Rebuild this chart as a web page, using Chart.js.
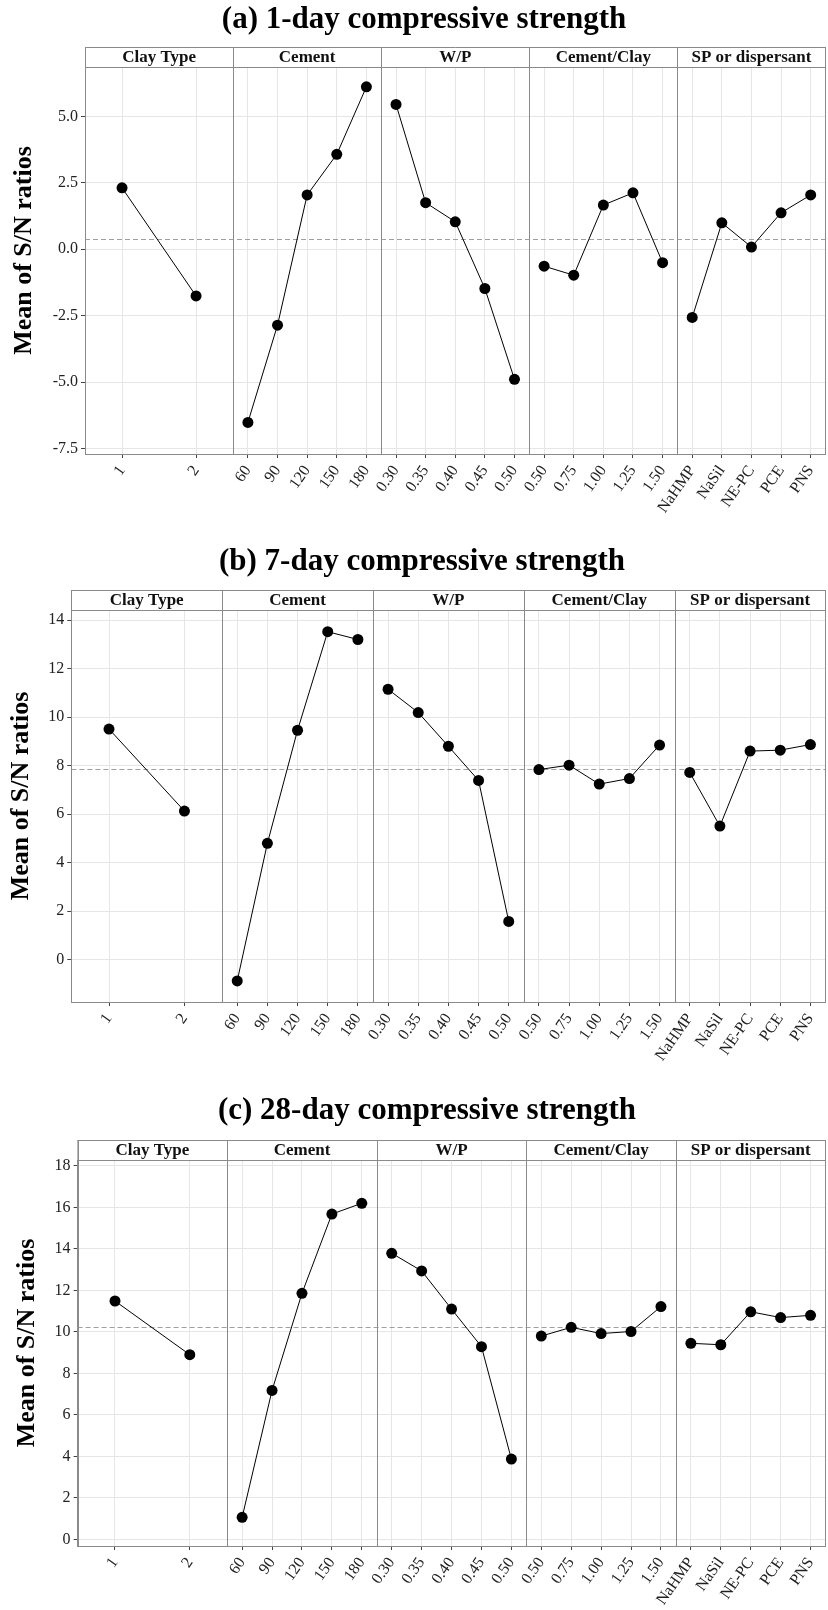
<!DOCTYPE html>
<html><head><meta charset="utf-8">
<script src="https://cdn.jsdelivr.net/npm/chart.js@4/dist/chart.umd.min.js"></script>
<style>
html,body{margin:0;padding:0;background:#fff;overflow:hidden;width:828px;height:1610px;position:relative;}
canvas{position:absolute;left:0;display:block;}
</style></head><body>
<canvas id="cA" width="831" height="540" style="top:0px"></canvas>
<canvas id="cB" width="831" height="542" style="top:540px"></canvas>
<canvas id="cC" width="831" height="528" style="top:1082px"></canvas>
<script>
// ---------- data ----------
const factorNames = ["Clay Type", "Cement", "W/P", "Cement/Clay", "SP or dispersant"];
const clayLevels = ["1", "2"];
const cementLevels = ["60", "90", "120", "150", "180"];
const wpLevels = ["0.30", "0.35", "0.40", "0.45", "0.50"];
const ratioLevels = ["0.50", "0.75", "1.00", "1.25", "1.50"];
const spLevels = ["NaHMP", "NaSil", "NE-PC", "PCE", "PNS"];
const panelTitles = ["(a) 1-day compressive strength", "(b) 7-day compressive strength", "(c) 28-day compressive strength"];
const yAxisTitle = "Mean of S/N ratios";

const day1Clay = [2.31, -1.76];
const day1Cement = [-6.52, -2.86, 2.04, 3.57, 6.11];
const day1WP = [5.45, 1.75, 1.03, -1.48, -4.90];
const day1Ratio = [-0.64, -0.98, 1.66, 2.12, -0.51];
const day1SP = [-2.57, 0.99, 0.08, 1.37, 2.04];
const day1Mean = 0.37;

const day7Clay = [9.51, 6.13];
const day7Cement = [-0.87, 4.80, 9.46, 13.52, 13.20];
const day7WP = [11.15, 10.19, 8.80, 7.39, 1.58];
const day7Ratio = [7.84, 8.02, 7.24, 7.47, 8.85];
const day7SP = [7.72, 5.51, 8.60, 8.64, 8.87];
const day7Mean = 7.88;

const day28Clay = [11.49, 8.90];
const day28Cement = [1.06, 7.18, 11.86, 15.68, 16.20];
const day28WP = [13.79, 12.94, 11.10, 9.29, 3.87];
const day28Ratio = [9.80, 10.22, 9.92, 10.02, 11.22];
const day28SP = [9.45, 9.38, 10.97, 10.69, 10.80];
const day28Mean = 10.25;

// ---------- style ----------
const FONT = "'Liberation Serif', 'Times New Roman', serif";
const GRID = "#e6e6e6";
const BORDER = "#8a8a8a";
const TICKC = "#444";
Chart.defaults.font.family = FONT;

const facetPlugin = {
  id: "facets",
  beforeDatasetsDraw(chart, args, opts) {
    const { ctx, chartArea } = chart;
    const y = Math.round(chart.scales.y.getPixelForValue(opts.mean)) + 0.5;
    ctx.save();
    ctx.strokeStyle = "#a0a0a0";
    ctx.lineWidth = 1;
    ctx.setLineDash([5, 3]);
    ctx.beginPath();
    ctx.moveTo(chartArea.left, y);
    ctx.lineTo(chartArea.right, y);
    ctx.stroke();
    ctx.restore();
  },
  afterDraw(chart, args, opts) {
    const { ctx, chartArea } = chart;
    const top = chartArea.top;
    const sh = opts.stripHeight;
    ctx.save();
    ctx.fillStyle = "#fff";
    ctx.fillRect(chartArea.left, top, chartArea.right - chartArea.left, sh);
    ctx.strokeStyle = BORDER;
    ctx.lineWidth = 1;
    ctx.beginPath();
    ctx.moveTo(chartArea.left, top + 0.5); ctx.lineTo(chartArea.right, top + 0.5);
    ctx.moveTo(chartArea.left, top + sh + 0.5); ctx.lineTo(chartArea.right, top + sh + 0.5);
    ctx.stroke();
    ctx.font = "bold 17px " + FONT;
    ctx.fillStyle = "#111";
    ctx.textAlign = "center";
    ctx.textBaseline = "middle";
    opts.axes.forEach((id, i) => {
      const s = chart.scales[id];
      const x = Math.round(s.left) + 0.5;
      ctx.beginPath();
      ctx.moveTo(x, top); ctx.lineTo(x, chartArea.bottom);
      ctx.stroke();
      if (i === opts.axes.length - 1) {
        const xr = Math.round(s.right) - 0.5;
        ctx.beginPath(); ctx.moveTo(xr, top); ctx.lineTo(xr, chartArea.bottom); ctx.stroke();
      }
      ctx.fillText(opts.names[i], (s.left + s.right) / 2, top + sh / 2 + 1);
    });
    ctx.restore();
  }
};

function makeChart(canvasId, cfg) {
  const levelSets = [clayLevels, cementLevels, wpLevels, ratioLevels, spLevels];
  const axisIds = levelSets.map((_, i) => "x" + i);
  const scales = {};
  levelSets.forEach((labels, i) => {
    scales["x" + i] = {
      type: "category",
      labels: labels,
      position: "bottom",
      stack: "facets",
      stackWeight: 1,
      offset: true,
      grid: { offset: false, color: GRID, lineWidth: 1, tickLength: 4, tickColor: TICKC, drawTicks: true },
      border: { color: BORDER, width: 1 },
      ticks: { autoSkip: false, minRotation: 55, maxRotation: 55, padding: 4, color: "#222",
               font: { family: FONT, size: 16 } },
      afterFit: (s) => { s.height = cfg.xAxisHeight; s.paddingLeft = 0; s.paddingRight = 0; }
    };
  });
  scales.y = {
    type: "linear",
    position: "left",
    min: cfg.yMin,
    max: cfg.yMax,
    grid: { color: GRID, lineWidth: 1, tickLength: 4, tickColor: TICKC },
    border: { color: BORDER, width: 1 },
    ticks: { stepSize: cfg.step, includeBounds: false, padding: 3, color: "#222",
             font: { family: FONT, size: 16 },
             callback: (v) => v.toFixed(cfg.decimals) },
    afterBuildTicks: (s) => { s.ticks = s.ticks.filter(t => t.value <= cfg.panelTop); },
    title: { display: true, text: yAxisTitle, color: "#000",
             font: { family: FONT, size: 26, weight: "bold" },
             padding: { top: cfg.yTitlePad, bottom: 0 } },
    afterFit: (s) => { s.width = cfg.yWidth; s.paddingTop = 0; s.paddingBottom = 0; }
  };
  const datasets = cfg.series.map((vals, i) => ({
    type: "line",
    data: vals,
    xAxisID: "x" + i,
    yAxisID: "y",
    borderColor: "#000",
    backgroundColor: "#000",
    borderWidth: 1,
    pointRadius: 5.5,
    pointBackgroundColor: "#000",
    pointBorderColor: "#000",
    pointBorderWidth: 0,
    tension: 0,
    fill: false
  }));
  return new Chart(document.getElementById(canvasId), {
    type: "line",
    data: { datasets },
    options: {
      responsive: false,
      animation: false,
      events: [],
      layout: { padding: { left: cfg.padLeft, right: 0, top: 0, bottom: 0 } },
      scales,
      plugins: {
        legend: { display: false },
        tooltip: { enabled: false },
        title: { display: true, text: cfg.title, color: "#000",
                 font: { family: FONT, size: 31, weight: "bold", lineHeight: 1.2 },
                 padding: { top: cfg.titlePadTop, bottom: cfg.titlePadBottom } },
        facets: { mean: cfg.mean, stripHeight: 20, axes: axisIds, names: factorNames }
      }
    },
    plugins: [facetPlugin]
  });
}

makeChart("cA", {
  title: panelTitles[0],
  series: [day1Clay, day1Cement, day1WP, day1Ratio, day1SP],
  mean: day1Mean,
  yMin: -7.71, yMax: 7.61, panelTop: 6.86, step: 2.5, decimals: 1,
  padLeft: 17, yWidth: 68, yTitlePad: -8.6,
  titlePadTop: 1.4, titlePadBottom: 8.4, xAxisHeight: 86
});
makeChart("cB", {
  title: panelTitles[1],
  series: [day7Clay, day7Cement, day7WP, day7Ratio, day7SP],
  mean: day7Mean,
  yMin: -1.74, yMax: 15.24, panelTop: 14.41, step: 2, decimals: 0,
  padLeft: 13, yWidth: 58.3, yTitlePad: -7.6,
  titlePadTop: 3.4, titlePadBottom: 9.4, xAxisHeight: 80
});
makeChart("cC", {
  title: panelTitles[2],
  series: [day28Clay, day28Cement, day28WP, day28Ratio, day28SP],
  mean: day28Mean,
  yMin: -0.32, yMax: 19.25, panelTop: 18.32, step: 2, decimals: 0,
  padLeft: 23, yWidth: 54.6, yTitlePad: -11.6,
  titlePadTop: 10.4, titlePadBottom: 10.4, xAxisHeight: 64
});
</script>
</body></html>
